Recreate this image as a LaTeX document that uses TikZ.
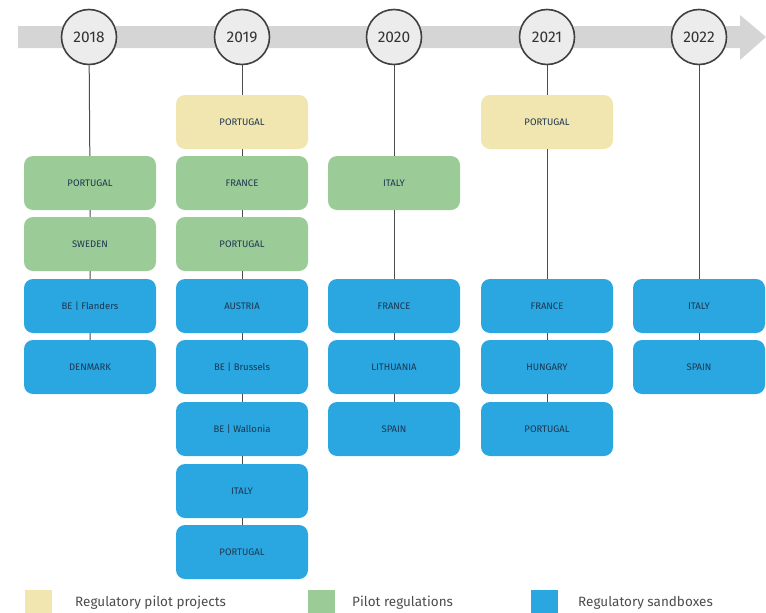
\documentclass[tikz,border=0pt]{standalone}
\usepackage{fontspec}
\setmainfont{Fira Sans}
\definecolor{cyel}{HTML}{F1E6B0}
\definecolor{cgrn}{HTML}{9BCC98}
\definecolor{cblu}{HTML}{2AA7E0}
\definecolor{ctxt}{HTML}{1E3550}
\definecolor{cband}{HTML}{D5D5D5}
\definecolor{ccirc}{HTML}{ECECEC}
\tikzset{
  box/.style={rounded corners=9pt, minimum width=132pt, minimum height=54pt, inner sep=0pt,
    font=\fontsize{9.5}{10}\selectfont, text=ctxt},
  ybox/.style={box, fill=cyel},
  gbox/.style={box, fill=cgrn},
  bbox/.style={box, fill=cblu},
  year/.style={circle, draw=black!75, line width=1.6pt, fill=ccirc, minimum size=55pt, inner sep=0pt,
    font=\fontsize{15.5}{16}\selectfont, text=black!80},
  link/.style={draw=black!70, line width=1pt},
  legsq/.style={minimum width=27pt, minimum height=25pt, inner sep=0pt},
  legtx/.style={anchor=west, font=\fontsize{13.5}{15}\selectfont, text=black!70, inner sep=0pt}
}
\begin{document}
\begin{tikzpicture}[x=1pt,y=-1pt]
\useasboundingbox (0,0) rectangle (766,613);
% band arrow
\fill[cband] (18,26) -- (740,26) -- (740,15) -- (766,37) -- (740,60) -- (740,48) -- (18,48) -- cycle;
% year circles
\node[year] (y18) at (89,37) {2018};
\node[year] (y19) at (242,37) {2019};
\node[year] (y20) at (394,37) {2020};
\node[year] (y21) at (547,37) {2021};
\node[year] (y22) at (699,37) {2022};
% 2018
\node[gbox] (a2) at (90,183) {PORTUGAL};
\node[gbox] (a3) at (90,244) {SWEDEN};
\node[bbox] (a4) at (90,306) {BE | Flanders};
\node[bbox] (a5) at (90,367) {DENMARK};
% 2019
\node[ybox] (b1) at (242,122) {PORTUGAL};
\node[gbox] (b2) at (242,183) {FRANCE};
\node[gbox] (b3) at (242,244) {PORTUGAL};
\node[bbox] (b4) at (242,306) {AUSTRIA};
\node[bbox] (b5) at (242,367) {BE | Brussels};
\node[bbox] (b6) at (242,429) {BE | Wallonia};
\node[bbox] (b7) at (242,491) {ITALY};
\node[bbox] (b8) at (242,552) {PORTUGAL};
% 2020
\node[gbox] (c2) at (394,183) {ITALY};
\node[bbox] (c4) at (394,306) {FRANCE};
\node[bbox] (c5) at (394,367) {LITHUANIA};
\node[bbox] (c6) at (394,429) {SPAIN};
% 2021
\node[ybox] (d1) at (547,122) {PORTUGAL};
\node[bbox] (d4) at (547,306) {FRANCE};
\node[bbox] (d5) at (547,367) {HUNGARY};
\node[bbox] (d6) at (547,429) {PORTUGAL};
% 2022
\node[bbox] (e4) at (699,306) {ITALY};
\node[bbox] (e5) at (699,367) {SPAIN};
% connectors
\path[link] (y18) -- (a2) (a2) -- (a3) (a3) -- (a4) (a4) -- (a5);
\path[link] (y19) -- (b1) (b1) -- (b2) (b2) -- (b3) (b3) -- (b4) (b4) -- (b5) (b5) -- (b6) (b6) -- (b7) (b7) -- (b8);
\path[link] (y20) -- (c2) (c2) -- (c4) (c4) -- (c5) (c5) -- (c6);
\path[link] (y21) -- (d1) (d1) -- (d4) (d4) -- (d5) (d5) -- (d6);
\path[link] (y22) -- (e4) (e4) -- (e5);
% legend
\node[legsq, fill=cyel] (l1) at (38,602) {};
\node[legtx] (t1) at (75,603) {Regulatory pilot projects};
\node[legsq, fill=cgrn] (l2) at (321,602) {};
\node[legtx] (t2) at (352,603) {Pilot regulations};
\node[legsq, fill=cblu] (l3) at (544,602) {};
\node[legtx] (t3) at (578,603) {Regulatory sandboxes};
\end{tikzpicture}
\end{document}
